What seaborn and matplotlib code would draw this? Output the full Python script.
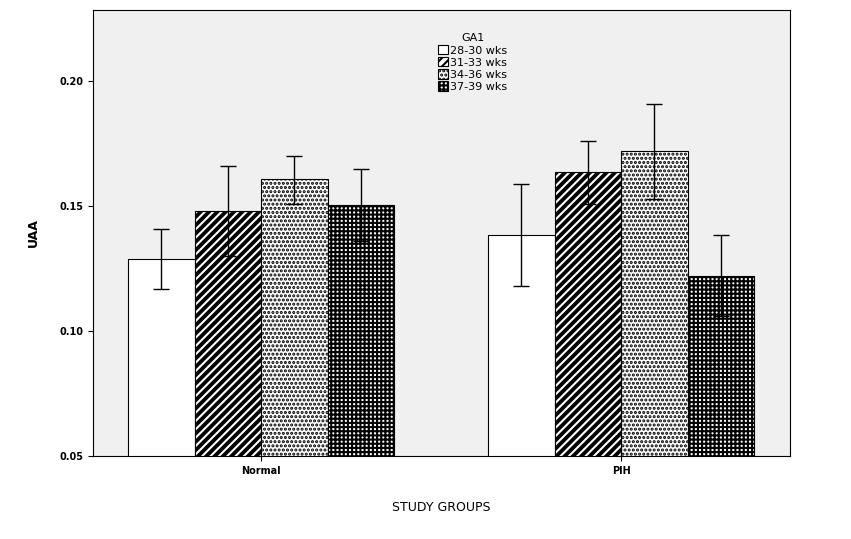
import seaborn as sns
import matplotlib.pyplot as plt
import pandas as pd

groups = ["Normal", "PIH"]
ages = ["28-30 wks", "31-33 wks", "34-36 wks", "37-39 wks"]
uaa_normal = [0.129, 0.148, 0.161, 0.1505]
uaa_pih = [0.1385, 0.1635, 0.172, 0.122]
lo_normal = [0.117, 0.130, 0.151, 0.136]
hi_normal = [0.141, 0.166, 0.170, 0.165]
lo_pih = [0.118, 0.151, 0.153, 0.106]
hi_pih = [0.159, 0.176, 0.191, 0.1385]

df = pd.DataFrame({
    "group": [g for g in groups for _ in ages],
    "age": ages * 2,
    "uaa": uaa_normal + uaa_pih,
    "lo": lo_normal + lo_pih,
    "hi": hi_normal + hi_pih,
})

plt.rcParams["hatch.linewidth"] = 1.5
fig = plt.figure(figsize=(8.51, 5.39), dpi=100)
ax = fig.add_axes([93/851, 1-456/539, 697/851, 446/539])
ax.set_facecolor("#f0f0f0")

sns.barplot(data=df, x="group", y="uaa", hue="age", order=groups, hue_order=ages,
            width=0.74, palette=["white"] * 4, edgecolor="black", linewidth=0.8,
            errorbar=None, ax=ax, legend=True)

hatches = ["", "////", "....", "++++"]
bar_containers = list(ax.containers)
for i, cont in enumerate(bar_containers):
    for j, p in enumerate(cont):
        p.set_hatch(hatches[i])
        if i == 1:
            p.set_facecolor("black")
            p.set_edgecolor("white")
            ax.add_patch(plt.Rectangle((p.get_x(), p.get_y()), p.get_width(), p.get_height(),
                                       fill=False, edgecolor="black", linewidth=0.8, zorder=p.get_zorder() + 0.1))
        x = p.get_x() + p.get_width() / 2
        row = df[(df.group == groups[j]) & (df.age == ages[i])].iloc[0]
        ax.errorbar(x, row.uaa, yerr=[[row.uaa - row.lo], [row.hi - row.uaa]],
                    color="black", capsize=6, linewidth=1, zorder=5)

ax.set_xlim(-0.467, 1.469)
ax.set_ylim(0.05, 0.2284)
ax.set_yticks([0.05, 0.10, 0.15, 0.20])
ax.set_yticklabels(["0.05", "0.10", "0.15", "0.20"], fontsize=7, fontweight="bold")
ax.set_xticks([0, 1])
ax.set_xticklabels(groups, fontsize=7, fontweight="bold")
ax.set_xlabel("STUDY GROUPS", fontsize=9, labelpad=18)
ax.set_ylabel("UAA", fontsize=9, fontweight="bold", labelpad=14)
for s in ax.spines.values():
    s.set_color("black")
    s.set_linewidth(0.8)

leg = ax.legend(title="GA1", loc="upper left", bbox_to_anchor=(0.487, 0.96),
                frameon=False, fontsize=8, title_fontsize=8,
                handlelength=0.9, handleheight=0.9, handletextpad=0.2,
                labelspacing=0.15, borderpad=0)
for h, ht in zip(leg.legend_handles, hatches):
    h.set_hatch(ht)
    h.set_edgecolor("black")
    h.set_facecolor("white")

fig.savefig("out.png", dpi=100)
